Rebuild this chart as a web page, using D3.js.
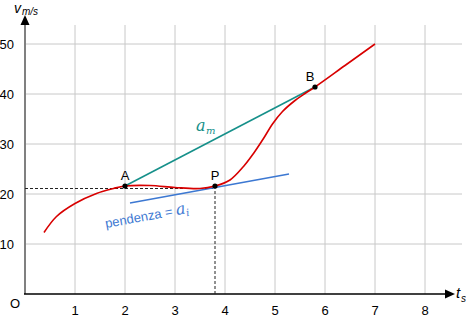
<!DOCTYPE html>
<html><head><meta charset="utf-8">
<script src="https://cdn.jsdelivr.net/npm/d3@7"></script>
<style>body{margin:0;background:#fff}svg{display:block}</style>
</head><body>
<svg id="c" width="466" height="317"></svg>
<script>
const xTicks = [1,2,3,4,5,6,7,8];
const yTicks = [10,20,30,40,50];
const curveT = [0.38, 0.63, 1.0, 1.43, 1.77, 2.0, 2.5, 3.0, 3.5, 3.8, 4.1, 4.37, 4.57, 4.77, 4.95, 5.15, 5.4, 5.6, 5.8, 6.4, 7.0];
const curveV = [12.3, 15.5, 18.1, 20.1, 21.1, 21.6, 21.7, 21.3, 21.1, 21.6, 22.8, 25.5, 28.1, 31.1, 34.0, 36.5, 38.7, 40.1, 41.4, 45.7, 50];
const pointA = {label:"A", t:2.0, v:21.6};
const pointP = {label:"P", t:3.8, v:21.6};
const pointB = {label:"B", t:5.8, v:41.4};
const tangentT = [2.1, 5.28];
const tangentV = [18.2, 24.0];

const svg = d3.select("#c");
const x = d3.scaleLinear().domain([0,8]).range([25,425]);
const y = d3.scaleLinear().domain([0,50]).range([294,44]);
const font = "Liberation Sans, Arial, sans-serif";

// grid
svg.append("g").selectAll("line").data(xTicks).join("line")
  .attr("x1",d=>x(d)).attr("x2",d=>x(d)).attr("y1",25).attr("y2",294)
  .attr("stroke","#c8c8c8").attr("stroke-width",1);
svg.append("g").selectAll("line").data(yTicks).join("line")
  .attr("x1",25).attr("x2",462).attr("y1",d=>y(d)).attr("y2",d=>y(d))
  .attr("stroke","#c8c8c8").attr("stroke-width",1);

// tick labels
svg.append("g").selectAll("text").data(xTicks).join("text")
  .attr("x",d=>x(d)).attr("y",315).attr("text-anchor","middle")
  .attr("font-family",font).attr("font-size",13).text(d=>d);
svg.append("g").selectAll("text").data(yTicks).join("text")
  .attr("x",14).attr("y",d=>y(d)+5).attr("text-anchor","end")
  .attr("font-family",font).attr("font-size",13).text(d=>d);
svg.append("text").attr("x",15).attr("y",308).attr("text-anchor","middle")
  .attr("font-family",font).attr("font-size",13).text("O");

// axes
svg.append("line").attr("x1",25).attr("x2",25).attr("y1",294).attr("y2",22)
  .attr("stroke","#808080").attr("stroke-width",2);
svg.append("path").attr("d","M25,15 L20.5,25 L29.5,25 Z").attr("fill","#000");
svg.append("line").attr("x1",24).attr("x2",448).attr("y1",294).attr("y2",294)
  .attr("stroke","#000").attr("stroke-width",1.5);
svg.append("path").attr("d","M455,294 L445,289.5 L445,298.5 Z").attr("fill","#000");

// axis titles
const vt = svg.append("text").attr("font-family",font).attr("font-style","italic");
vt.append("tspan").attr("x",14).attr("y",13).attr("font-size",14).text("v");
vt.append("tspan").attr("x",22).attr("y",15).attr("font-size",10).text("m/s");
const tt = svg.append("text").attr("font-family",font).attr("font-style","italic");
tt.append("tspan").attr("x",456).attr("y",298).attr("font-size",15).text("t");
tt.append("tspan").attr("x",461).attr("y",302).attr("font-size",10).text("s");

// dashed helpers
svg.append("line").attr("x1",25).attr("x2",x(pointP.t)).attr("y1",y(pointP.v-0.5)).attr("y2",y(pointP.v-0.5))
  .attr("stroke","#222").attr("stroke-width",1).attr("stroke-dasharray","3,2");
svg.append("line").attr("x1",x(pointP.t)).attr("x2",x(pointP.t)).attr("y1",y(pointP.v)).attr("y2",294)
  .attr("stroke","#222").attr("stroke-width",1).attr("stroke-dasharray","3,2");

// secant A-B
svg.append("line").attr("x1",x(pointA.t)).attr("y1",y(pointA.v)).attr("x2",x(pointB.t)).attr("y2",y(pointB.v))
  .attr("stroke","#16908a").attr("stroke-width",1.6);
// tangent
svg.append("line").attr("x1",x(tangentT[0])).attr("y1",y(tangentV[0])).attr("x2",x(tangentT[1])).attr("y2",y(tangentV[1]))
  .attr("stroke","#3c78d2").attr("stroke-width",1.6);

// curve
const pts = curveT.map((t,i)=>[t,curveV[i]]);
svg.append("path").datum(pts)
  .attr("d", d3.line().x(d=>x(d[0])).y(d=>y(d[1])).curve(d3.curveCatmullRom.alpha(0.5)))
  .attr("fill","none").attr("stroke","#d80000").attr("stroke-width",1.6);

// points
const P3 = [pointA,pointP,pointB];
svg.append("g").selectAll("circle").data(P3).join("circle")
  .attr("cx",d=>x(d.t)).attr("cy",d=>y(d.v)).attr("r",2.6).attr("fill","#000");
svg.append("g").selectAll("text").data(P3).join("text")
  .attr("x",d=>x(d.t)-(d.label==="B"?5:0)).attr("y",d=>y(d.v)-6).attr("text-anchor","middle")
  .attr("font-family",font).attr("font-size",13).text(d=>d.label);

// a_m label
const am = svg.append("text").attr("fill","#16908a").attr("font-family","DejaVu Serif, serif").attr("font-style","italic");
am.append("tspan").attr("x",196).attr("y",131).attr("font-size",16).text("a");
am.append("tspan").attr("x",206).attr("y",134).attr("font-size",10).text("m");

// pendenza label
const ang = Math.atan2(y(tangentV[1])-y(tangentV[0]), x(tangentT[1])-x(tangentT[0]))*180/Math.PI;
const pg = svg.append("g").attr("transform",`translate(106,228) rotate(${ang})`);
const pt = pg.append("text").attr("fill","#3c78d2").attr("x",0).attr("y",0);
pt.append("tspan").attr("font-family",font).attr("font-size",13).text("pendenza = ");
pt.append("tspan").attr("font-family","DejaVu Serif, serif").attr("font-style","italic").attr("font-size",16).text("a");
pt.append("tspan").attr("font-family","DejaVu Serif, serif").attr("font-style","italic").attr("font-size",10).attr("dy",3).text("i");
</script>
</body></html>
